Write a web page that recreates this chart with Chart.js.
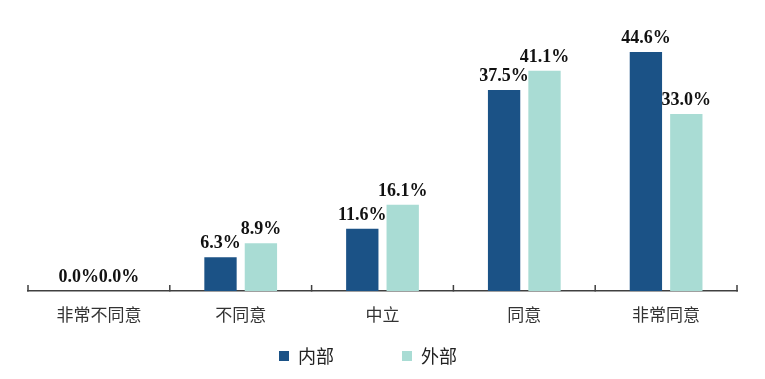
<!DOCTYPE html>
<html>
<head>
<meta charset="utf-8">
<script src="https://cdn.jsdelivr.net/npm/chart.js@4.4.0/dist/chart.umd.min.js"></script>
<style>
  html, body { margin: 0; padding: 0; background: #ffffff; }
  #wrap { width: 765px; height: 379px; position: relative; }
</style>
</head>
<body>
<div id="wrap"><canvas id="c"></canvas></div>
<script>
const categories = ['非常不同意', '不同意', '中立', '同意', '非常同意'];
const seriesNames = ['内部', '外部'];
const internalValues = [0.0, 6.3, 11.6, 37.5, 44.6];
const externalValues = [0.0, 8.9, 16.1, 41.1, 33.0];
const yMin = 0;
const yMax = 50;

const COLOR_IN = '#1B5286';
const COLOR_OUT = '#A9DCD4';
const AXIS_COLOR = '#404040';

const valueLabels = {
  id: 'valueLabels',
  afterDatasetsDraw(chart) {
    const ctx = chart.ctx;
    ctx.save();
    ctx.font = 'bold 18px "Liberation Serif", "Times New Roman", serif';
    ctx.fillStyle = '#111111';
    ctx.textAlign = 'center';
    ctx.textBaseline = 'alphabetic';
    chart.data.datasets.forEach((ds, di) => {
      const meta = chart.getDatasetMeta(di);
      meta.data.forEach((el, i) => {
        const v = ds.data[i];
        ctx.fillText(v.toFixed(1) + '%', el.x, el.y - 9);
      });
    });
    ctx.restore();
  }
};

// tick marks at category boundaries, pointing up into the plot
const innerTicks = {
  id: 'innerTicks',
  afterDraw(chart) {
    const sx = chart.scales.x;
    const ctx = chart.ctx;
    const yAxis = sx.top;
    ctx.save();
    ctx.strokeStyle = AXIS_COLOR;
    ctx.lineWidth = 1.5;
    ctx.beginPath();
    for (let i = 0; i <= categories.length; i++) {
      const x = sx.getPixelForValue(i - 0.5);
      ctx.moveTo(x, yAxis + 0.5);
      ctx.lineTo(x, yAxis - 6);
    }
    ctx.stroke();
    ctx.restore();
  }
};

const blankItem = () => ({
  text: '', fillStyle: 'rgba(0,0,0,0)', strokeStyle: 'rgba(0,0,0,0)',
  lineWidth: 0, hidden: false, datasetIndex: -1
});

new Chart(document.getElementById('c'), {
  type: 'bar',
  data: {
    labels: categories,
    datasets: [
      { label: seriesNames[0], data: internalValues, backgroundColor: COLOR_IN, borderWidth: 0,
        categoryPercentage: 0.57, barPercentage: 0.8 },
      { label: seriesNames[1], data: externalValues, backgroundColor: COLOR_OUT, borderWidth: 0,
        categoryPercentage: 0.57, barPercentage: 0.8 }
    ]
  },
  options: {
    responsive: true,
    maintainAspectRatio: false,
    animation: false,
    layout: { padding: { top: 23, left: 28, right: 28, bottom: 4 } },
    scales: {
      x: {
        grid: { display: false, drawTicks: false },
        border: { display: true, color: AXIS_COLOR, width: 1.5 },
        ticks: {
          color: '#333333', padding: 13,
          font: { family: '"Noto Sans CJK SC", sans-serif', size: 17 }
        },
        afterFit(scale) { scale.height = 46; }
      },
      y: {
        display: false, min: yMin, max: yMax
      }
    },
    plugins: {
      tooltip: { enabled: false },
      legend: {
        position: 'bottom',
        onClick: null,
        labels: {
          boxWidth: 10, boxHeight: 10, padding: 10, color: '#222222',
          font: { family: '"Noto Sans CJK SC", sans-serif', size: 18 },
          generateLabels(chart) {
            const base = Chart.defaults.plugins.legend.labels.generateLabels(chart);
            return [base[0], blankItem(), blankItem(), base[1], blankItem()];
          }
        }
      }
    }
  },
  plugins: [valueLabels, innerTicks]
});
</script>
</body>
</html>
